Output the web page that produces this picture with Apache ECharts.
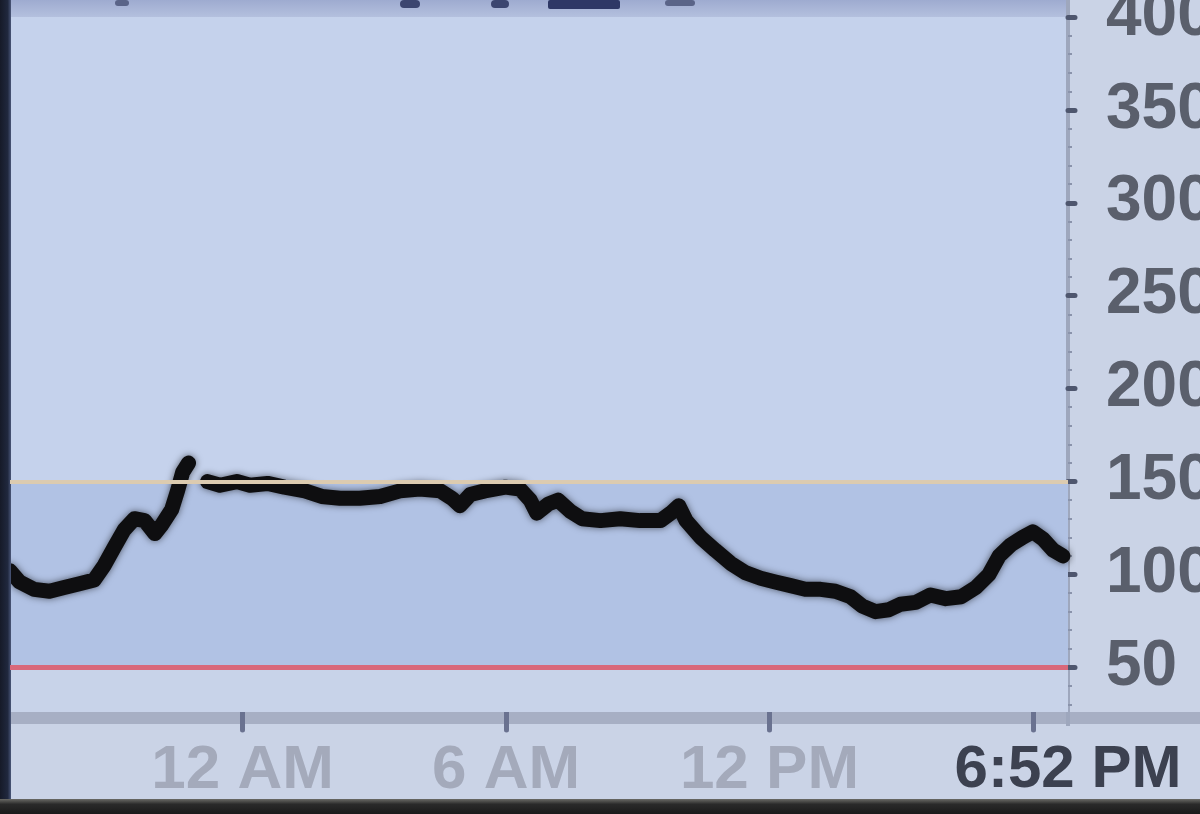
<!DOCTYPE html>
<html>
<head>
<meta charset="utf-8">
<script src="https://cdn.jsdelivr.net/npm/echarts@6/dist/echarts.min.js"></script>
<style>
html,body{margin:0;padding:0;background:#c9d2e5;}
#chart{width:1200px;height:814px;}
</style>
</head>
<body>
<div id="chart"></div>
<script>
// Minutes relative to midnight (12 AM); negative = previous evening
const times = [-318,-305,-285,-264,-244,-223,-203,-189,-175,-162,-148,-134,-120,-110,-97,-89,-82,-74,-61,-48,-31,-8,10,34,57,85,108,133,160,188,215,242,270,286,297,311,331,359,379,393,402,418,431,448,464,489,516,543,571,585,596,606,626,646,667,687,708,728,749,769,790,810,831,847,865,883,899,920,940,961,982,1002,1020,1034,1050,1066,1080,1094,1108,1121];
// Glucose readings (mg/dL); null = gap in data
const glucose = [102,96,92,91,93,95,97,105,115,124,130,129,122,127,135,145,155,160,null,150,148,150,148,149,147,145,142,141,141,142,145,146,145,141,137,143,145,147,146,140,133,138,140,134,130,129,130,129,129,133,137,129,120,113,106,101,98,96,94,92,92,91,88,83,80,81,84,85,89,87,88,93,100,110,116,120,123,119,113,110];
const xTickValues = [0,360,720,1080];
const xLabelValues = [0,360,720,1128];
const xTickLabels = ['12 AM','6 AM','12 PM','6:52 PM'];
const yTickValues = [50,100,150,200,250,300,350,400];
const yMinorValues = [30,40,60,70,80,90,110,120,130,140,160,170,180,190,210,220,230,240,260,270,280,290,310,320,330,340,360,370,380,390];
const highLimit = 150;
const lowLimit = 50;
const xMin = -318, xMax = 1128, yMin = 26, yMax = 400;

const chart = echarts.init(document.getElementById('chart'));
const data = times.map((t,i)=>[t, glucose[i]]);
const FONT = 'Liberation Sans';

chart.setOption({
  backgroundColor:'#cad3e6',
  animation:false,
  grid:{left:10,right:132,top:17,bottom:102,containLabel:false,outerBoundsMode:'none',show:true,backgroundColor:'#c5d2ec',borderWidth:0},
  graphic:[
    {type:'rect',z:0,shape:{x:0,y:0,width:1070,height:17},style:{fill:new echarts.graphic.LinearGradient(0,0,0,1,[{offset:0,color:'#9eabd0'},{offset:1,color:'#b4c0de'}])}},
    {type:'rect',z:1,shape:{x:115,y:0,width:14,height:6,r:3},style:{fill:'#5a6488'}},
    {type:'rect',z:1,shape:{x:400,y:0,width:20,height:8,r:4},style:{fill:'#3c4670'}},
    {type:'rect',z:1,shape:{x:491,y:0,width:18,height:8,r:4},style:{fill:'#3c4670'}},
    {type:'rect',z:1,shape:{x:548,y:0,width:72,height:9,r:2},style:{fill:'#2e3866'}},
    {type:'rect',z:1,shape:{x:665,y:0,width:30,height:6,r:3},style:{fill:'#5a6488'}},
    {type:'rect',z:0,shape:{x:0,y:712,width:1200,height:12},style:{fill:'#a7afc4'}},
    {type:'rect',z:0,shape:{x:1066,y:0,width:4,height:726},style:{fill:'#9ea7bd'}},
    {type:'rect',z:5,shape:{x:0,y:0,width:11,height:814},style:{fill:new echarts.graphic.LinearGradient(0,0,1,0,[{offset:0,color:'#161a28'},{offset:0.7,color:'#20283e'},{offset:1,color:'#4a5678'}])}},
    {type:'rect',z:5,shape:{x:0,y:799,width:1200,height:15},style:{fill:new echarts.graphic.LinearGradient(0,0,0,1,[{offset:0,color:'#6a6a66'},{offset:0.35,color:'#2a2a2a'},{offset:1,color:'#1a1a1a'}])}}
  ],
  xAxis:{
    type:'value',min:xMin,max:xMax,
    axisLine:{show:false,onZero:false},
    splitLine:{show:false},
    axisTick:{show:true,length:18,customValues:xTickValues,lineStyle:{color:'#6a7290',width:5,cap:'round'}},
    axisLabel:{
      customValues:xLabelValues,margin:28,verticalAlign:'top',
      formatter:function(v){
        const i = xLabelValues.indexOf(v);
        const s = i>=0 ? xTickLabels[i] : '';
        return i===xLabelValues.length-1 ? '{now|'+s+'}' : '{t|'+s+'}';
      },
      rich:{
        t:{fontFamily:FONT,fontSize:62,fontWeight:'bold',color:'#a4aabb'},
        now:{fontFamily:FONT,fontSize:60,fontWeight:'bold',color:'#3c4150'}
      }
    }
  },
  yAxis:[
    {
      type:'value',min:yMin,max:yMax,position:'right',
      axisLine:{show:false,onZero:false},
      splitLine:{show:false},
      axisTick:{show:true,inside:false,length:7,customValues:yTickValues,lineStyle:{color:'#4e566e',width:5,cap:'round'}},
      axisLabel:{customValues:yTickValues,margin:38,fontFamily:FONT,fontSize:64,fontWeight:'bold',color:'#5a5f6c',padding:[14,0,0,0]}
    },
    {
      type:'value',min:yMin,max:yMax,position:'right',
      axisLine:{show:false,onZero:false},splitLine:{show:false},
      axisTick:{show:true,length:4,customValues:yMinorValues,lineStyle:{color:'#8a93ab',width:2}},
      axisLabel:{show:false}
    }
  ],
  series:[{
    type:'line',
    data:data,
    showSymbol:false,
    connectNulls:false,
    z:3,
    lineStyle:{color:'#0e0e10',width:15,cap:'round',join:'round',shadowBlur:7,shadowColor:'rgba(0,0,0,0.55)'},
    markArea:{
      silent:true,
      data:[
        [{yAxis:lowLimit,itemStyle:{color:'#b1c2e4'}},{yAxis:highLimit}],
        [{yAxis:yMin,itemStyle:{color:'#c8d3e9'}},{yAxis:lowLimit}]
      ]
    },
    markLine:{
      silent:true,symbol:'none',label:{show:false},
      data:[
        {yAxis:highLimit,lineStyle:{color:'#dccbb0',width:4,type:'solid'}},
        {yAxis:lowLimit,lineStyle:{color:'#d9687a',width:5,type:'solid'}}
      ]
    }
  }]
});
</script>
</body>
</html>
